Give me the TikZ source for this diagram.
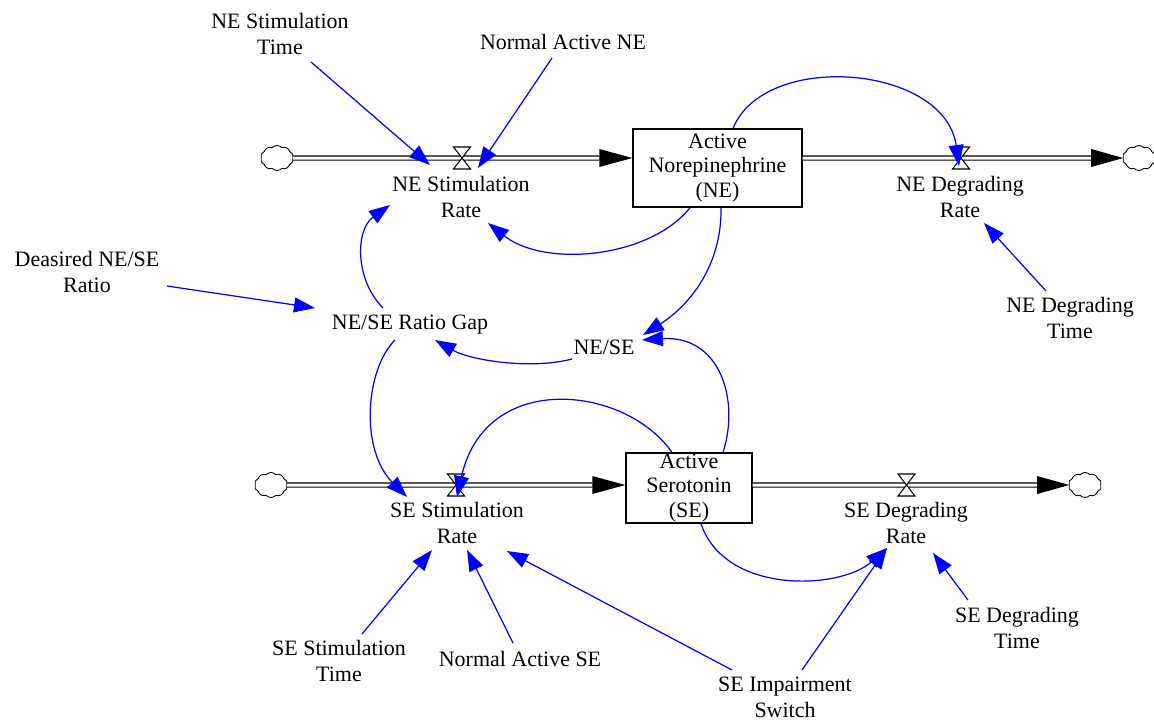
\documentclass[tikz,border=0pt]{standalone}
\usepackage{fontspec}
\setmainfont{Liberation Serif}
\usetikzlibrary{arrows.meta,calc,shapes.symbols}
\begin{document}
\begin{tikzpicture}[x=0.02cm,y=-0.02cm,
 lbl/.style={align=center, font=\fontsize{12.5}{14.8}\selectfont, inner sep=1pt},
 stock/.style={draw, line width=0.8pt, align=center, font=\fontsize{12.5}{14}\selectfont, inner sep=0},
 valve/.style={minimum width=0.34cm, minimum height=0.44cm, inner sep=0, outer sep=0},
 cloudnode/.style={cloud, cloud puffs=10, cloud puff arc=95, cloud ignores aspect, draw, fill=white, line width=0.5pt, minimum width=0.66cm, minimum height=0.5cm, inner sep=0, outer sep=0},
 pipe/.style={line width=0.7pt, double, double distance=0.06cm},
 inf/.style={blue, line width=0.7pt, -{Triangle[length=0.42cm,width=0.3cm]}},
 valveline/.style={line width=0.6pt, fill=white}
]
\useasboundingbox (0,0) rectangle (1154,721);

% clouds
\node[cloudnode] (c1) at (277,158) {};
\node[cloudnode] (c2) at (1139,158) {};
\node[cloudnode] (c3) at (271,485) {};
\node[cloudnode] (c4) at (1085,485) {};

% stocks
\node[stock, minimum width=3.38cm, minimum height=1.56cm] (ne) at (717.5,168) {Active\\Norepinephrine\\(NE)};
\node[stock, minimum width=2.52cm, minimum height=1.4cm] (se) at (689,488) {Active\\Serotonin\\(SE)};

% valves
\node[valve] (nsv) at (462,158) {};
\node[valve] (ndv) at (961,158) {};
\node[valve] (ssv) at (456,485) {};
\node[valve] (sdv) at (906.5,485) {};

% pipes
\draw[pipe] (c1.east) -- ($(ne.west)+(-33,-10)$);
\fill ($(ne.west)+(0,-10)$) -- ++(-33,-9) -- ++(0,18) -- cycle;
\draw[pipe] ($(ne.east)+(0,-10)$) -- ($(c2.west)+(-32,0)$);
\fill (c2.west) -- ++(-32,-9) -- ++(0,18) -- cycle;
\draw[pipe] (c3.east) -- ($(se.west)+(-33,-3)$);
\fill ($(se.west)+(0,-3)$) -- ++(-33,-9) -- ++(0,18) -- cycle;
\draw[pipe] ($(se.east)+(0,-3)$) -- ($(c4.west)+(-32,0)$);
\fill (c4.west) -- ++(-32,-9) -- ++(0,18) -- cycle;

\foreach \v in {nsv,ndv,ssv,sdv}
  \draw[valveline] (\v.north west) -- (\v.north east) -- (\v.south west) -- (\v.south east) -- cycle;

% labels
\node[lbl] (nst) at (280,34) {NE Stimulation\\Time};
\node[lbl] (nane) at (563,42) {Normal Active NE};
\node[lbl] (nsr) at (461,197) {NE Stimulation\\Rate};
\node[lbl] (ndr) at (960,197) {NE Degrading\\Rate};
\node[lbl] (ndt) at (1070,318) {NE Degrading\\Time};
\node[lbl] (dr) at (87,272) {Deasired NE/SE\\Ratio};
\node[lbl] (gap) at (410,325) {NE/SE Ratio Gap};
\node[lbl] (ratio) at (604,347) {NE/SE};
\node[lbl] (ssr) at (457,523) {SE Stimulation\\Rate};
\node[lbl] (sdr) at (906,523) {SE Degrading\\Rate};
\node[lbl] (sdt) at (1017,628) {SE Degrading\\Time};
\node[lbl] (sst) at (339,661) {SE Stimulation\\Time};
\node[lbl] (nase) at (520,659) {Normal Active SE};
\node[lbl] (sis) at (785,697) {SE Impairment\\Switch};

% information links
\draw[inf] ($(nst)+(31,28)$) -- ($(nsv)+(-32,7)$);
\draw[inf] ($(nane)+(-11,16)$) -- ($(nsv)+(16,10)$);
\draw[inf] ($(ne.north)+(15.5,0)$) .. controls (765,50) and (945,65) .. ($(ndv)+(-2,8)$);
\draw[inf] ($(ne.south)+(-27.5,0)$) .. controls (650,258) and (545,268) .. ($(nsr)+(27,26)$);
\draw[inf] ($(ne.south)+(3.5,0)$) .. controls (722,265) and (690,305) .. ($(ratio)+(39,-12)$);
\draw[inf] ($(gap)+(-27,-17)$) .. controls (355,280) and (355,230) .. ($(nsr)+(-71,8)$);
\draw[inf] ($(dr)+(80,14)$) -- ($(gap)+(-95,-17)$);
\draw[inf] ($(ratio)+(-32,12)$) .. controls (530,370) and (470,360) .. ($(gap)+(25,15)$);
\draw[inf] ($(se.north)+(34,0)$) .. controls (740,400) and (720,335) .. ($(ratio)+(38,-7)$);
\draw[inf] ($(gap)+(-15,15)$) .. controls (365,370) and (360,450) .. ($(ssr)+(-50,-26)$);
\draw[inf] ($(se.north)+(-17,0)$) .. controls (625,385) and (485,370) .. ($(ssv)+(1,12)$);
\draw[inf] ($(se.south)+(12,0)$) .. controls (725,595) and (840,590) .. ($(sdr)+(-19,25)$);
\draw[inf] ($(sdt)+(-49,-28)$) -- ($(sdr)+(27,30)$);
\draw[inf] ($(sst)+(23,-27)$) -- ($(ssr)+(-25,27)$);
\draw[inf] ($(nase)+(-7,-16)$) -- ($(ssr)+(10,27)$);
\draw[inf] ($(sis)+(-53,-27)$) -- ($(ssr)+(50,28)$);
\draw[inf] ($(sis)+(17,-27)$) -- ($(sdr)+(-19,25)$);
\draw[inf] ($(ndt)+(-24,-27)$) -- ($(ndr)+(24,26)$);
\end{tikzpicture}
\end{document}
